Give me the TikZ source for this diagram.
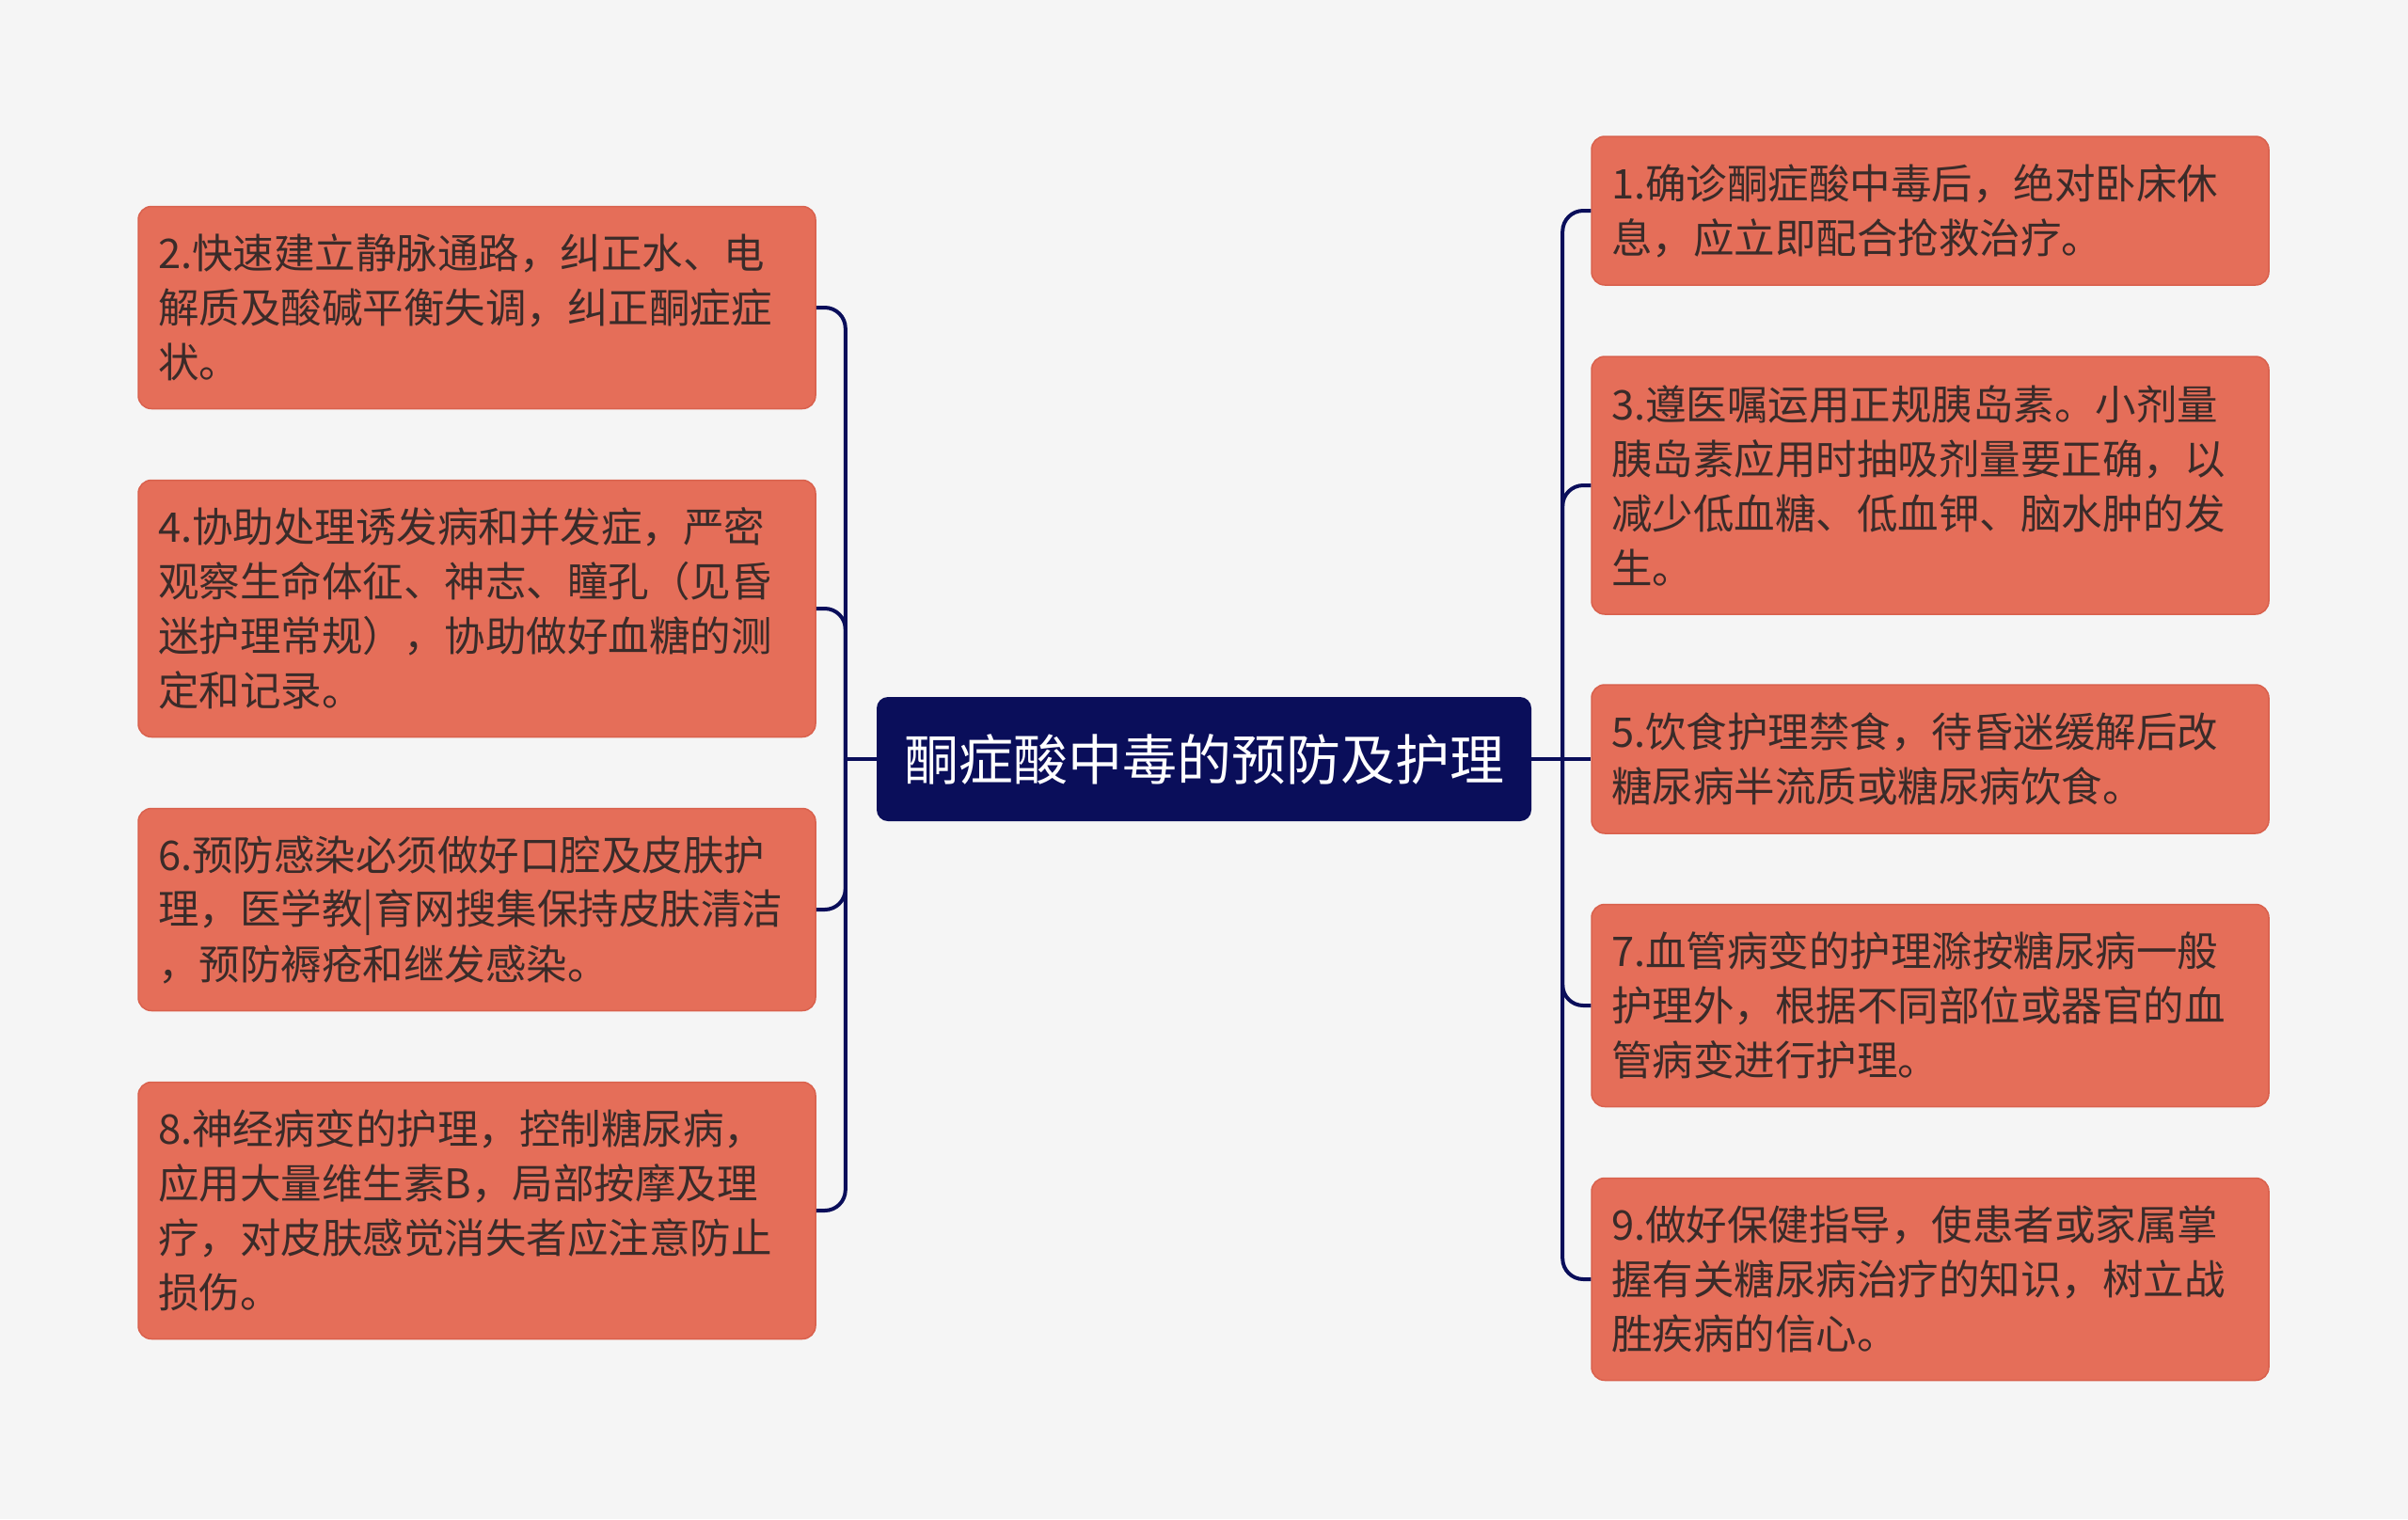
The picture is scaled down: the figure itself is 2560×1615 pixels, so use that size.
\documentclass[tikz,border=0pt]{standalone}
\usepackage{fontspec}
\newfontfamily\cjk{Noto Sans CJK SC}
\usetikzlibrary{calc}
\definecolor{BgGray}{HTML}{F5F5F5}
\definecolor{RootBlue}{HTML}{0A0E5A}
\definecolor{TopicRed}{HTML}{E56E59}
\definecolor{TopicEdge}{HTML}{D9614D}
\definecolor{TopicText}{HTML}{3A2B29}
\tikzset{%
	% Style of the root node
	RootNode/.style={rectangle,rounded corners=12,fill=RootBlue,text=white,inner sep=0,
		minimum width=696,minimum height=132,font=\cjk\fontsize{58}{70}\selectfont},
	% Style of the topic nodes
	TopicNode/.style={rectangle,rounded corners=14,fill=TopicRed,draw=TopicEdge,line width=1.5,
		text=TopicText,text width=678,inner xsep=21,inner ysep=0,align=left,
		font=\cjk\fontsize{43.5}{58}\selectfont},
	% Style of the branch
	Connection/.style={draw=RootBlue,line width=4,rounded corners=22},
}
\begin{document}
\begin{tikzpicture}[x=1pt,y=-1pt]

\fill[BgGray] (0,0) rectangle (2560,1615);

%~~~~~~~~~~~~~~~~~~~~~~~~~~~~~~~~~~~~~~~~~~~~~~~~~~
% Set Nodes
%~~~~~~~~~~~~~~~~~~~~~~~~~~~~~~~~~~~~~~~~~~~~~~~~~~
\node[RootNode] (Root) at (1280, 807) {酮症酸中毒的预防及护理};

\node[TopicNode,minimum height=158] (N1) at (2052, 224) {1.确诊酮症酸中毒后，绝对卧床休\\息，应立即配合抢救治疗。};

\node[TopicNode,minimum height=215] (N2) at (507, 327) {2.快速建立静脉通路，纠正水、电\\解质及酸碱平衡失调，纠正酮症症\\状。};

\node[TopicNode,minimum height=274] (N3) at (2052, 516) {3.遵医嘱运用正规胰岛素。小剂量\\胰岛素应用时抽吸剂量要正确，以\\减少低血糖、低血钾、脑水肿的发\\生。};

\node[TopicNode,minimum height=273] (N4) at (507, 647) {4.协助处理诱发病和并发症，严密\\观察生命体征、神志、瞳孔（见昏\\迷护理常规），协助做好血糖的测\\定和记录。};

\node[TopicNode,minimum height=158] (N5) at (2052, 807) {5.饮食护理禁食，待昏迷缓解后改\\糖尿病半流质或糖尿病饮食。};

\node[TopicNode,minimum height=215] (N6) at (507, 967) {6.预防感染必须做好口腔及皮肤护\\理，医学教|育网搜集保持皮肤清洁\\，预防褥疮和继发感染。};

\node[TopicNode,minimum height=215] (N7) at (2052, 1069) {7.血管病变的护理滁按糖尿病一般\\护理外，根据不同部位或器官的血\\管病变进行护理。};

\node[TopicNode,minimum height=273] (N8) at (507, 1287) {8.神经病变的护理，控制糖尿病，\\应用大量维生素B，局部按摩及理\\疗，对皮肤感觉消失者应注意防止\\损伤。};

\node[TopicNode,minimum height=215] (N9) at (2052, 1360) {9.做好保健指导，使患者或家属掌\\握有关糖尿病治疗的知识，树立战\\胜疾病的信心。};

\coordinate (LSpine) at ($ (Root.west) + (-33, 0) $);
\coordinate (RSpine) at ($ (Root.east) + (33, 0) $);

%~~~~~~~~~~~~~~~~~~~~~~~~~~~~~~~~~~~~~~~~~~~~~~~~~~
% Set Branches
%~~~~~~~~~~~~~~~~~~~~~~~~~~~~~~~~~~~~~~~~~~~~~~~~~~
%Branches from Root to the left
\draw[Connection] (Root.west) -- (LSpine);
\draw[Connection] (LSpine) |- (N2.east);
\draw[Connection] (LSpine) |- (N4.east);
\draw[Connection] (LSpine) |- (N6.east);
\draw[Connection] (LSpine) |- (N8.east);

%Branches from Root to the right
\draw[Connection] (Root.east) -- (RSpine) -- (N5.west);
\draw[Connection] (RSpine) |- (N1.west);
\draw[Connection] (RSpine) |- (N3.west);
\draw[Connection] (RSpine) |- (N7.west);
\draw[Connection] (RSpine) |- (N9.west);

\end{tikzpicture}
\end{document}
